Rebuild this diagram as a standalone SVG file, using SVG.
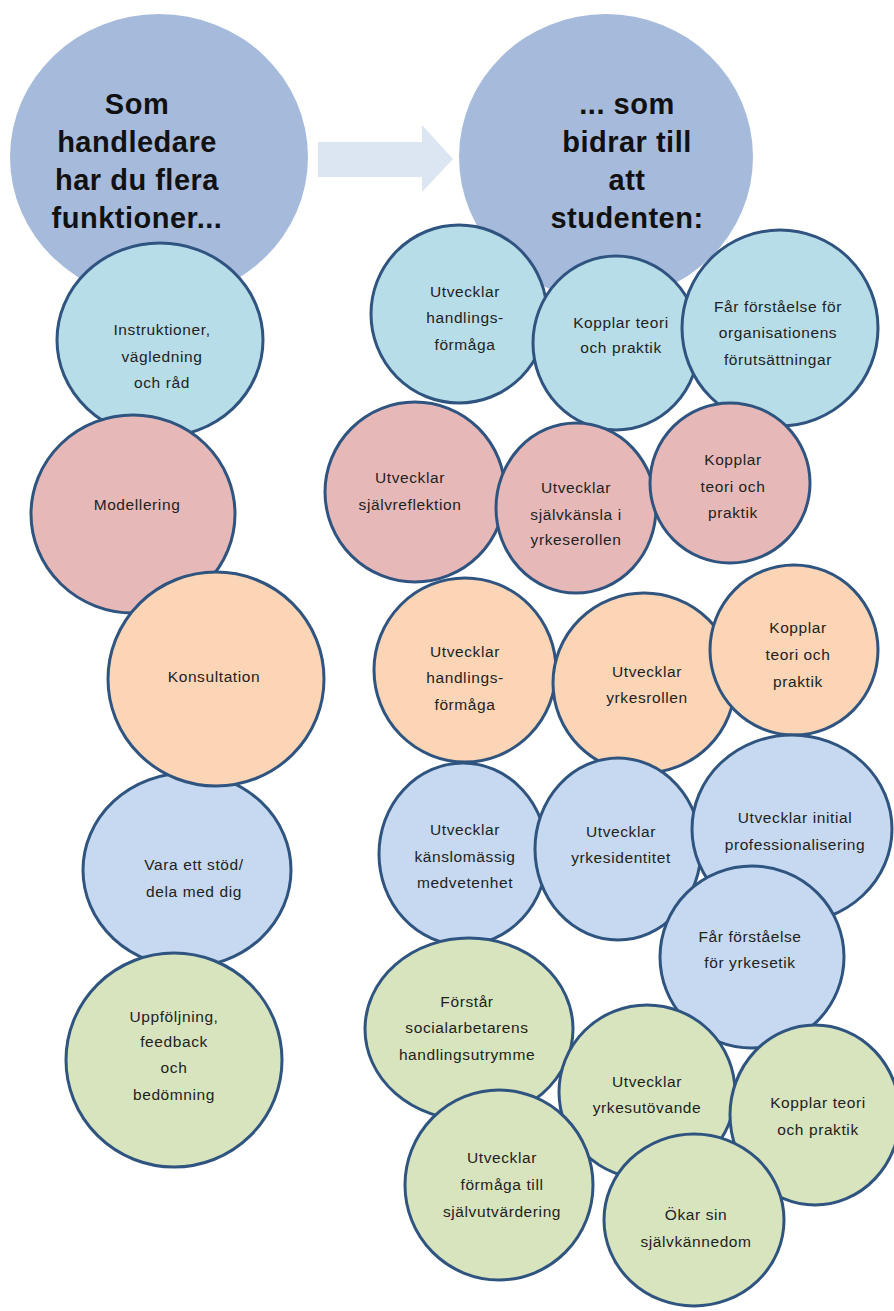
<svg xmlns="http://www.w3.org/2000/svg" width="894" height="1311" viewBox="0 0 894 1311">
<style>
.big{fill:#a6bbdb;stroke:none}
.n{stroke:#2f5480;stroke-width:3}
.lb{fill:#b7dde8}
.pk{fill:#e6b9b8}
.or{fill:#fbd5b5}
.bl{fill:#c6d9f0}
.gr{fill:#d7e4bd}
.t{font-family:"Liberation Sans",Arial,sans-serif;font-size:15.5px;letter-spacing:0.6px;text-anchor:middle;fill:#222}
.h{font-family:"Liberation Sans",Arial,sans-serif;font-size:29px;font-weight:bold;letter-spacing:0.5px;text-anchor:middle;fill:#111}
</style>
<rect width="894" height="1311" fill="#fff"/>
<g id="big-left"><ellipse class="big" cx="159" cy="157" rx="149" ry="143"/>
<text class="h" x="137" y="114">Som</text><text class="h" x="137" y="152">handledare</text><text class="h" x="137" y="190">har du flera</text><text class="h" x="137" y="228">funktioner...</text></g>
<g id="big-right"><ellipse class="big" cx="606" cy="157" rx="147" ry="143"/>
<text class="h" x="627" y="114">... som</text><text class="h" x="627" y="152">bidrar till</text><text class="h" x="627" y="190">att</text><text class="h" x="627" y="228">studenten:</text></g>
<g id="connectors"><polygon points="318,142 422,142 422,125 453,159 422,192 422,177 318,177" fill="#dce6f2"/></g>
<g id="n-instr"><ellipse class="n lb" cx="160" cy="340" rx="103" ry="97"/><text class="t" x="162" y="335">Instruktioner,</text><text class="t" x="162" y="362">vägledning</text><text class="t" x="162" y="388">och råd</text></g>
<g id="n-b1"><ellipse class="n lb" cx="459" cy="314" rx="88" ry="89"/><text class="t" x="465" y="297">Utvecklar</text><text class="t" x="465" y="323">handlings-</text><text class="t" x="465" y="350">förmåga</text></g>
<g id="n-b2"><ellipse class="n lb" cx="616" cy="343" rx="83" ry="87"/><text class="t" x="621" y="328">Kopplar teori</text><text class="t" x="621" y="353">och praktik</text></g>
<g id="n-b3"><ellipse class="n lb" cx="780" cy="328" rx="98" ry="98"/><text class="t" x="778" y="312">Får förståelse för</text><text class="t" x="778" y="338">organisationens</text><text class="t" x="778" y="365">förutsättningar</text></g>
<g id="n-model"><ellipse class="n pk" cx="133" cy="514" rx="102" ry="99"/><text class="t" x="137" y="510">Modellering</text></g>
<g id="n-p1"><ellipse class="n pk" cx="415" cy="492" rx="90" ry="90"/><text class="t" x="410" y="483">Utvecklar</text><text class="t" x="410" y="510">självreflektion</text></g>
<g id="n-p2"><ellipse class="n pk" cx="576" cy="508" rx="80" ry="85"/><text class="t" x="576" y="493">Utvecklar</text><text class="t" x="576" y="520">självkänsla i</text><text class="t" x="576" y="545">yrkeserollen</text></g>
<g id="n-p3"><ellipse class="n pk" cx="730" cy="483" rx="80" ry="80"/><text class="t" x="733" y="465">Kopplar</text><text class="t" x="733" y="492">teori och</text><text class="t" x="733" y="518">praktik</text></g>
<g id="n-vara"><ellipse class="n bl" cx="187" cy="870" rx="104" ry="97"/><text class="t" x="194" y="870">Vara ett stöd/</text><text class="t" x="194" y="897">dela med dig</text></g>
<g id="n-kons"><ellipse class="n or" cx="216" cy="679" rx="108" ry="107"/><text class="t" x="214" y="682">Konsultation</text></g>
<g id="n-o1"><ellipse class="n or" cx="465" cy="670" rx="91" ry="92"/><text class="t" x="465" y="657">Utvecklar</text><text class="t" x="465" y="683">handlings-</text><text class="t" x="465" y="710">förmåga</text></g>
<g id="n-o2"><ellipse class="n or" cx="644" cy="683" rx="91" ry="90"/><text class="t" x="647" y="677">Utvecklar</text><text class="t" x="647" y="703">yrkesrollen</text></g>
<g id="n-o3"><ellipse class="n or" cx="794" cy="650" rx="84" ry="85"/><text class="t" x="798" y="633">Kopplar</text><text class="t" x="798" y="660">teori och</text><text class="t" x="798" y="687">praktik</text></g>
<g id="n-u1"><ellipse class="n bl" cx="463" cy="854" rx="84" ry="91"/><text class="t" x="465" y="835">Utvecklar</text><text class="t" x="465" y="862">känslomässig</text><text class="t" x="465" y="888">medvetenhet</text></g>
<g id="n-u2"><ellipse class="n bl" cx="618" cy="849" rx="83" ry="91"/><text class="t" x="621" y="837">Utvecklar</text><text class="t" x="621" y="863">yrkesidentitet</text></g>
<g id="n-u3"><ellipse class="n bl" cx="792" cy="829" rx="100" ry="94"/><text class="t" x="795" y="823">Utvecklar initial</text><text class="t" x="795" y="850">professionalisering</text></g>
<g id="n-u4"><ellipse class="n bl" cx="752" cy="957" rx="92" ry="91"/><text class="t" x="750" y="942">Får förståelse</text><text class="t" x="750" y="968">för yrkesetik</text></g>
<g id="n-uppf"><ellipse class="n gr" cx="174" cy="1060" rx="108" ry="107"/><text class="t" x="174" y="1022">Uppföljning,</text><text class="t" x="174" y="1047">feedback</text><text class="t" x="174" y="1073">och</text><text class="t" x="174" y="1100">bedömning</text></g>
<g id="n-g1"><ellipse class="n gr" cx="469" cy="1029" rx="104" ry="91"/><text class="t" x="467" y="1007">Förstår</text><text class="t" x="467" y="1033">socialarbetarens</text><text class="t" x="467" y="1060">handlingsutrymme</text></g>
<g id="n-g2"><ellipse class="n gr" cx="647" cy="1092" rx="88" ry="87"/><text class="t" x="647" y="1087">Utvecklar</text><text class="t" x="647" y="1113">yrkesutövande</text></g>
<g id="n-g3"><ellipse class="n gr" cx="815" cy="1115" rx="85" ry="90"/><text class="t" x="818" y="1108">Kopplar teori</text><text class="t" x="818" y="1135">och praktik</text></g>
<g id="n-g4"><ellipse class="n gr" cx="499" cy="1185" rx="94" ry="95"/><text class="t" x="502" y="1163">Utvecklar</text><text class="t" x="502" y="1190">förmåga till</text><text class="t" x="502" y="1217">självutvärdering</text></g>
<g id="n-g5"><ellipse class="n gr" cx="694" cy="1220" rx="90" ry="86"/><text class="t" x="696" y="1220">Ökar sin</text><text class="t" x="696" y="1247">självkännedom</text></g>
</svg>
